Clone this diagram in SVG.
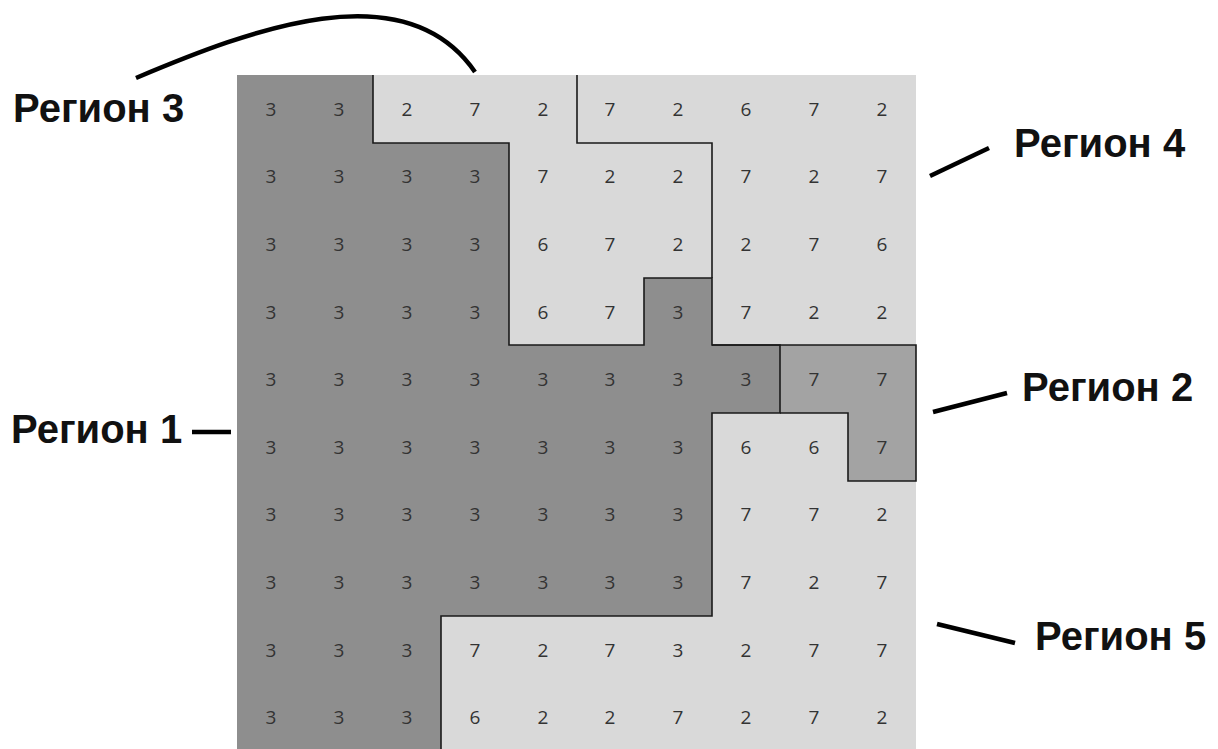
<svg xmlns="http://www.w3.org/2000/svg" width="1218" height="749" viewBox="0 0 1218 749">
<style>
.r1{fill:#8e8e8e}
.r2{fill:#a3a3a3}
.bg{fill:#d9d9d9}
.b{fill:none;stroke:#1a1a1a;stroke-width:1.6}
.n{font-family:"Open Sans","DejaVu Sans",sans-serif;font-size:19px;fill:#333;text-anchor:middle}
.lbl{font-family:"Liberation Sans",Arial,sans-serif;font-weight:bold;font-size:40px;fill:#111}
.ld{fill:none;stroke:#000;stroke-width:4.5;stroke-linecap:butt}
</style>
<rect width="1218" height="749" fill="#fff"/>
<g id="grid">
<rect class="bg" x="237" y="75" width="679" height="676"/>
<polygon id="region1" class="r1" points="237,75 373,75 373,143 509,143 509,345 644,345 644,278 712,278 712,345 780,345 780,413 712,413 712,616 441,616 441,751 237,751"/>
<polygon id="region2" class="r2" points="780,345 916,345 916,481 848,481 848,413 780,413"/>
<path class="b" d="M373,75 V143 H509 V345 H644 V278 H712 V345 H780 V413 H712 V616 H441 V751"/>
<path class="b" d="M712,345 H916 V481 H848 V413 H780"/>
<path class="b" d="M577,75 V143 H712 V278"/>
</g>
<g id="values">
<text class="n" x="271" y="116">3</text><text class="n" x="339" y="116">3</text><text class="n" x="407" y="116">2</text><text class="n" x="475" y="116">7</text><text class="n" x="543" y="116">2</text><text class="n" x="610" y="116">7</text><text class="n" x="678" y="116">2</text><text class="n" x="746" y="116">6</text><text class="n" x="814" y="116">7</text><text class="n" x="882" y="116">2</text>
<text class="n" x="271" y="183">3</text><text class="n" x="339" y="183">3</text><text class="n" x="407" y="183">3</text><text class="n" x="475" y="183">3</text><text class="n" x="543" y="183">7</text><text class="n" x="610" y="183">2</text><text class="n" x="678" y="183">2</text><text class="n" x="746" y="183">7</text><text class="n" x="814" y="183">2</text><text class="n" x="882" y="183">7</text>
<text class="n" x="271" y="251">3</text><text class="n" x="339" y="251">3</text><text class="n" x="407" y="251">3</text><text class="n" x="475" y="251">3</text><text class="n" x="543" y="251">6</text><text class="n" x="610" y="251">7</text><text class="n" x="678" y="251">2</text><text class="n" x="746" y="251">2</text><text class="n" x="814" y="251">7</text><text class="n" x="882" y="251">6</text>
<text class="n" x="271" y="319">3</text><text class="n" x="339" y="319">3</text><text class="n" x="407" y="319">3</text><text class="n" x="475" y="319">3</text><text class="n" x="543" y="319">6</text><text class="n" x="610" y="319">7</text><text class="n" x="678" y="319">3</text><text class="n" x="746" y="319">7</text><text class="n" x="814" y="319">2</text><text class="n" x="882" y="319">2</text>
<text class="n" x="271" y="386">3</text><text class="n" x="339" y="386">3</text><text class="n" x="407" y="386">3</text><text class="n" x="475" y="386">3</text><text class="n" x="543" y="386">3</text><text class="n" x="610" y="386">3</text><text class="n" x="678" y="386">3</text><text class="n" x="746" y="386">3</text><text class="n" x="814" y="386">7</text><text class="n" x="882" y="386">7</text>
<text class="n" x="271" y="454">3</text><text class="n" x="339" y="454">3</text><text class="n" x="407" y="454">3</text><text class="n" x="475" y="454">3</text><text class="n" x="543" y="454">3</text><text class="n" x="610" y="454">3</text><text class="n" x="678" y="454">3</text><text class="n" x="746" y="454">6</text><text class="n" x="814" y="454">6</text><text class="n" x="882" y="454">7</text>
<text class="n" x="271" y="521">3</text><text class="n" x="339" y="521">3</text><text class="n" x="407" y="521">3</text><text class="n" x="475" y="521">3</text><text class="n" x="543" y="521">3</text><text class="n" x="610" y="521">3</text><text class="n" x="678" y="521">3</text><text class="n" x="746" y="521">7</text><text class="n" x="814" y="521">7</text><text class="n" x="882" y="521">2</text>
<text class="n" x="271" y="589">3</text><text class="n" x="339" y="589">3</text><text class="n" x="407" y="589">3</text><text class="n" x="475" y="589">3</text><text class="n" x="543" y="589">3</text><text class="n" x="610" y="589">3</text><text class="n" x="678" y="589">3</text><text class="n" x="746" y="589">7</text><text class="n" x="814" y="589">2</text><text class="n" x="882" y="589">7</text>
<text class="n" x="271" y="657">3</text><text class="n" x="339" y="657">3</text><text class="n" x="407" y="657">3</text><text class="n" x="475" y="657">7</text><text class="n" x="543" y="657">2</text><text class="n" x="610" y="657">7</text><text class="n" x="678" y="657">3</text><text class="n" x="746" y="657">2</text><text class="n" x="814" y="657">7</text><text class="n" x="882" y="657">7</text>
<text class="n" x="271" y="724">3</text><text class="n" x="339" y="724">3</text><text class="n" x="407" y="724">3</text><text class="n" x="475" y="724">6</text><text class="n" x="543" y="724">2</text><text class="n" x="610" y="724">2</text><text class="n" x="678" y="724">7</text><text class="n" x="746" y="724">2</text><text class="n" x="814" y="724">7</text><text class="n" x="882" y="724">2</text>
</g>
<g id="label-region1"><text class="lbl" x="11" y="443">Регион 1</text></g>
<g id="label-region2"><text class="lbl" x="1022" y="401">Регион 2</text></g>
<g id="label-region3"><text class="lbl" x="13" y="122">Регион 3</text></g>
<g id="label-region4"><text class="lbl" x="1014" y="157">Регион 4</text></g>
<g id="label-region5"><text class="lbl" x="1035" y="650">Регион 5</text></g>
<g id="connectors">
<path class="ld" d="M136,78 C250,30 405,-30 475,72"/>
<line class="ld" x1="192" y1="432" x2="231" y2="432"/>
<line class="ld" x1="930" y1="176" x2="989" y2="148"/>
<line class="ld" x1="933" y1="412" x2="1007" y2="393"/>
<line class="ld" x1="937" y1="624" x2="1015" y2="643"/>
</g>
</svg>
